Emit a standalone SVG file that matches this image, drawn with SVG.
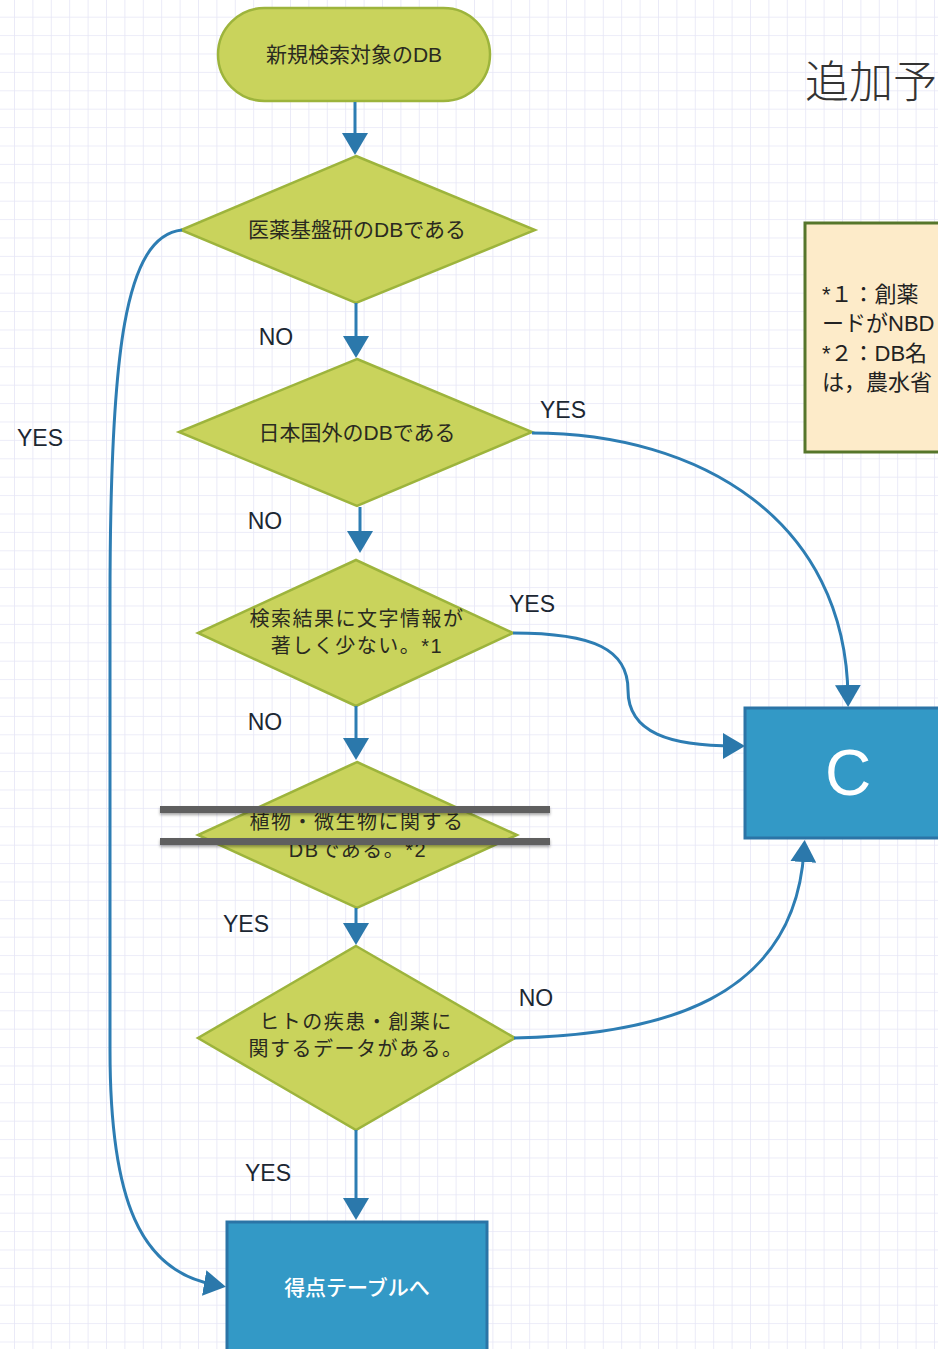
<svg xmlns="http://www.w3.org/2000/svg" width="938" height="1349" viewBox="0 0 938 1349">
<style>
.dia{fill:#c9d35c;stroke:#9db43c;stroke-width:2.5}
.t{font-family:"Liberation Sans","Noto Sans CJK JP",sans-serif;font-size:21px;fill:#2a2a20;text-anchor:middle;dominant-baseline:central}
.t2{font-family:"Liberation Sans","Noto Sans CJK JP",sans-serif;font-size:20px;letter-spacing:1.5px;fill:#2a2a20;text-anchor:middle;dominant-baseline:central}
.lbl{font-family:"Liberation Sans",Arial,sans-serif;font-size:23px;fill:#1c2733;text-anchor:middle;dominant-baseline:central}
.con{fill:none;stroke:#2d7db3;stroke-width:3}
.box{fill:#3399c6;stroke:#2b74a6;stroke-width:3}
.wt{font-family:"Noto Sans CJK JP","Noto Sans",sans-serif;font-size:21px;font-weight:500;fill:#ffffff;text-anchor:middle;dominant-baseline:central}
.note{font-family:"Liberation Sans","Noto Sans CJK JP",sans-serif;font-size:22px;fill:#222;dominant-baseline:central}
.bar{fill:#5f5f5f}
</style>
<defs>
<pattern id="grid" patternUnits="userSpaceOnUse" x="-4.4" y="-1.7" width="18.4" height="18.4">
<path d="M0,0 H18.4 M0,0 V18.4" fill="none" stroke="#e6e6f6" stroke-width="1.6"/>
</pattern>
<marker id="ah" markerUnits="userSpaceOnUse" viewBox="0 0 22 26" markerWidth="22" markerHeight="26" refX="12" refY="13" orient="auto">
<path d="M0,0 L22,13 L0,26 z" fill="#2b78ab"/>
</marker>
<filter id="sh" x="-5%" y="-100%" width="110%" height="400%">
<feDropShadow dx="0" dy="2" stdDeviation="1.5" flood-color="#000" flood-opacity="0.35"/>
</filter>
</defs>
<rect x="0" y="0" width="938" height="1349" fill="#ffffff"/>
<rect x="0" y="0" width="938" height="1349" fill="url(#grid)"/>

<g id="title">
<text x="805" y="79" font-family="'Noto Sans CJK JP',sans-serif" font-size="44" font-weight="300" fill="#333" dominant-baseline="central">追加予</text>
</g>

<g id="note">
<rect x="805" y="223" width="150" height="229" fill="#fdebc9" stroke="#56762b" stroke-width="3"/>
<text class="note" x="822" y="294">*１：創薬</text>
<text class="note" x="822" y="323">ードがNBD</text>
<text class="note" x="822" y="353">*２：DB名</text>
<text class="note" x="822" y="382">は，農水省</text>
</g>

<g id="start">
<rect x="218" y="8" width="272" height="93" rx="46.5" class="dia"/>
<text class="t" x="354" y="54">新規検索対象のDB</text>
</g>

<g id="d1">
<polygon class="dia" points="356,156 535,230 356,303 181,230"/>
<text class="t" x="357" y="229">医薬基盤研のDBである</text>
</g>

<g id="d2">
<polygon class="dia" points="357,359 532,432 357,506 179,432"/>
<text class="t" x="357" y="432">日本国外のDBである</text>
</g>

<g id="d3">
<polygon class="dia" points="356,560 513,633 356,706 198,633"/>
<text class="t2" x="357" y="619">検索結果に文字情報が</text>
<text class="t2" x="357" y="646">著しく少ない。*1</text>
</g>

<g id="d4">
<polygon class="dia" points="357,762 517,835 357,908 198,835"/>
<text class="t2" x="357" y="822">植物・微生物に関する</text>
<text class="t2" x="358" y="850">DBである。*2</text>
<rect class="bar" x="160" y="806" width="390" height="7" filter="url(#sh)"/>
<rect class="bar" x="160" y="838" width="390" height="7" filter="url(#sh)"/>
</g>

<g id="d5">
<polygon class="dia" points="356,946 515,1038 356,1130 198,1038"/>
<text class="t2" x="356" y="1022">ヒトの疾患・創薬に</text>
<text class="t2" x="356" y="1049">関するデータがある。</text>
</g>

<g id="c">
<rect class="box" x="745" y="708" width="210" height="130"/>
<text x="848" y="773" font-family="'Liberation Sans',Arial,sans-serif" font-size="64" fill="#ffffff" text-anchor="middle" dominant-baseline="central">C</text>
</g>

<g id="score">
<rect class="box" x="227" y="1222" width="260" height="140"/>
<text class="wt" x="357" y="1286">得点テーブルへ</text>
</g>

<g id="connectors">
<path class="con" d="M355,102 L355,145" marker-end="url(#ah)"/>
<path class="con" d="M356,303 L356,348" marker-end="url(#ah)"/>
<path class="con" d="M360,507 L360,543" marker-end="url(#ah)"/>
<path class="con" d="M356,706 L356,750" marker-end="url(#ah)"/>
<path class="con" d="M356,908 L356,935" marker-end="url(#ah)"/>
<path class="con" d="M356,1130 L356,1210" marker-end="url(#ah)"/>
<path class="con" d="M182,230 C125,236 110,350 110,600 L110,1050 C110,1200 140,1272 216,1285" marker-end="url(#ah)"/>
<path class="con" d="M532,433 C700,433 846,520 848,697" marker-end="url(#ah)"/>
<path class="con" d="M513,633 C595,633 628,650 628,690 C628,733 670,746 735,746" marker-end="url(#ah)"/>
<path class="con" d="M514,1038 C660,1035 795,1000 804,850" marker-end="url(#ah)"/>
</g>

<g id="labels">
<text class="lbl" x="276" y="337">NO</text>
<text class="lbl" x="265" y="521">NO</text>
<text class="lbl" x="563" y="410">YES</text>
<text class="lbl" x="532" y="604">YES</text>
<text class="lbl" x="265" y="722">NO</text>
<text class="lbl" x="246" y="924">YES</text>
<text class="lbl" x="536" y="998">NO</text>
<text class="lbl" x="268" y="1173">YES</text>
<text class="lbl" x="40" y="438">YES</text>
</g>
</svg>
